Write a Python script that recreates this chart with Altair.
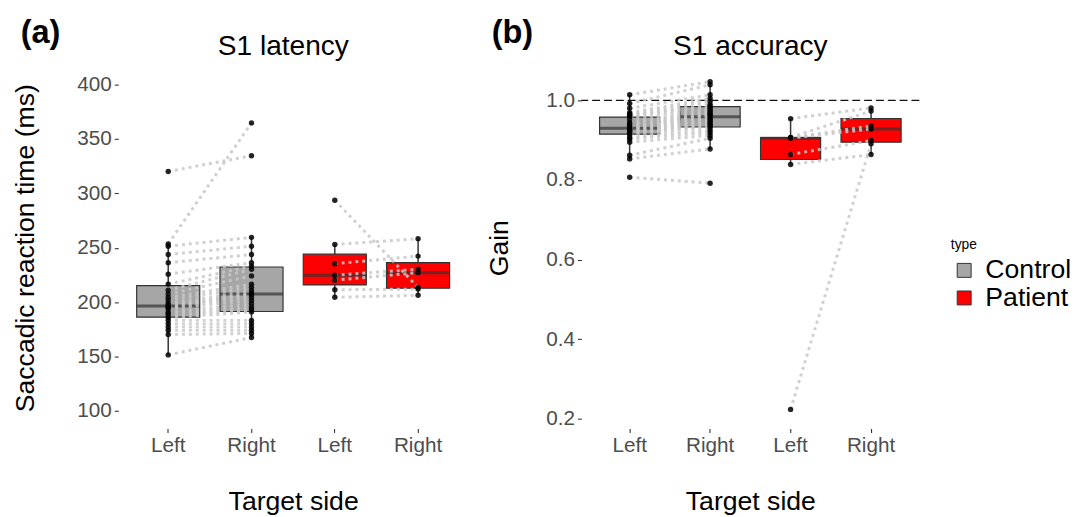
import altair as alt
import pandas as pd

# ---------------- data ----------------
grp_order = ["C-Left", "C-Right", "P-Left", "P-Right"]
type_names = ["Control", "Patient"]
type_colors = ["#A6A6A6", "#FF0000"]

# Panel (a): S1 latency (ms), paired by subject
lat_ctrl_left = [320, 253.4, 251.3, 243.8, 236.2, 225.7, 216.6, 211, 207.5, 204.4, 202, 199, 197,
                 196, 195, 193.9, 191, 189.5, 187.5, 185.8, 183.3, 180.3, 177.3, 174.3, 170.3, 151.6]
lat_ctrl_right = [334.4, 364.6, 259.5, 251.3, 243.8, 236.2, 233, 230.2, 224.1, 216.6, 213.6, 210.5, 208,
                  207, 204.4, 201.5, 198.5, 195.4, 193, 190.9, 183.3, 180.3, 177.3, 174.3, 171.3, 167.6]
lat_pat_left = [293.6, 252.9, 235.3, 224.7, 220.2, 211.4, 204.5]
lat_pat_right = [213.5, 258.3, 242.3, 230.2, 227.1, 212.0, 206.3]

# Panel (b): S1 accuracy (gain), paired by subject
acc_ctrl_left = [1.014, 0.992, 0.980, 0.969, 0.965, 0.962, 0.960, 0.952, 0.944, 0.940, 0.936, 0.932, 0.931,
                 0.929, 0.927, 0.925, 0.923, 0.920, 0.918, 0.914, 0.907, 0.903, 0.895, 0.862, 0.853, 0.807]
acc_ctrl_right = [1.047, 1.039, 1.014, 1.005, 0.998, 0.990, 0.985, 0.982, 0.977, 0.973, 0.969, 0.965, 0.962,
                  0.956, 0.952, 0.948, 0.944, 0.940, 0.936, 0.932, 0.925, 0.919, 0.912, 0.905, 0.878, 0.792]
acc_pat_left = [0.954, 0.907, 0.906, 0.905, 0.864, 0.839, 0.224]
acc_pat_right = [0.981, 0.973, 0.936, 0.928, 0.899, 0.864, 0.891]

lat_ticks = [100, 150, 200, 250, 300, 350, 400]
acc_ticks = [0.2, 0.4, 0.6, 0.8, 1.0]


def build(pairs):
    rows = []
    for typ, left, right in pairs:
        for i, (l, r) in enumerate(zip(left, right)):
            sid = f"{typ}{i + 1}"
            rows.append(dict(type=typ, grp=f"{typ[0]}-Left", subject=sid, value=l))
            rows.append(dict(type=typ, grp=f"{typ[0]}-Right", subject=sid, value=r))
    return pd.DataFrame(rows)


lat_df = build([("Control", lat_ctrl_left, lat_ctrl_right), ("Patient", lat_pat_left, lat_pat_right)])
acc_df = build([("Control", acc_ctrl_left, acc_ctrl_right), ("Patient", acc_pat_left, acc_pat_right)])

FONT = "Liberation Sans"


def panel(df, width, height, domain, ticks, fmt, ytitle, title, tag, tag_x, tag_y, box_size,
          title_dx=0, ytitle_pad=34, refline=False):
    x = alt.X("grp:N", sort=grp_order,
              scale=alt.Scale(domain=grp_order, paddingInner=0, paddingOuter=0.1),
              axis=alt.Axis(title="Target side", labelExpr="substring(datum.label, 2)",
                            labelAngle=0, labelPadding=2, titlePadding=34))
    y = alt.Y("value:Q", scale=alt.Scale(domain=domain, nice=False, zero=False),
              axis=alt.Axis(values=ticks, format=fmt, title=ytitle, labelPadding=3,
                            titlePadding=ytitle_pad))
    base = alt.Chart(df)
    box = base.mark_boxplot(
        extent=1.5, size=box_size, outliers=False,
        box={"stroke": "#333333", "strokeWidth": 1.2},
        median={"color": "#333333", "thickness": 3},
        rule={"color": "#333333", "strokeWidth": 1.5},
    ).encode(
        x=x, y=y,
        color=alt.Color("type:N", scale=alt.Scale(domain=type_names, range=type_colors),
                        legend=alt.Legend(title="type", orient="none", legendX=845, legendY=174,
                                          symbolType="square", symbolSize=200,
                                          symbolStrokeColor="#333333", symbolStrokeWidth=1,
                                          symbolOpacity=1)),
    )
    lines = base.mark_line(color="#C8C8C8", strokeWidth=3, strokeDash=[3, 4], opacity=0.85).encode(
        x=x, y="value:Q", detail="subject:N")
    pts = base.mark_circle(color="black", size=30, opacity=0.85).encode(x=x, y="value:Q")
    layers = [box]
    if refline:
        ref = alt.Chart(pd.DataFrame({"ref": [1.0]})).mark_rule(
            color="#111111", strokeDash=[8, 4], strokeWidth=1.2).encode(y="ref:Q")
        layers.append(ref)
    layers += [lines, pts]
    lab = alt.Chart(pd.DataFrame({"tag": [tag]})).mark_text(
        font=FONT, fontSize=33, fontWeight="bold", align="left", baseline="alphabetic",
        color="black").encode(text="tag:N", x=alt.value(tag_x), y=alt.value(tag_y))
    ttl = alt.Chart(pd.DataFrame({"title": [title]})).mark_text(
        font=FONT, fontSize=28.5, align="center", baseline="alphabetic",
        color="black").encode(text="title:N", x=alt.value(width / 2 + title_dx), y=alt.value(-12))
    layers += [lab, ttl]
    return alt.layer(*layers).properties(width=width, height=height)


pa = panel(lat_df, 355, 367, [84, 416], lat_ticks, "d", "Saccadic reaction time (ms)",
           "S1 latency", "(a)", -99, -24, 64, title_dx=-10, ytitle_pad=37.5)
pb = panel(acc_df, 343, 367, [0.176, 1.084], acc_ticks, ".1f", "Gain",
           "S1 accuracy", "(b)", -91, -24, 61, ytitle_pad=32.5, refline=True)

chart = alt.hconcat(pa, pb, spacing=18).resolve_scale(
    x="independent", y="independent", color="shared"
).properties(
    padding={"left": 12, "top": 14, "right": 5, "bottom": 5}
).configure_view(stroke=None).configure_axis(
    domain=False, grid=False, labelFont=FONT, titleFont=FONT, labelFontSize=21,
    labelColor="#4D4D4D", titleFontSize=27, titleColor="black", titleFontWeight="normal",
    tickColor="#333333", tickSize=4, tickWidth=1.1,
).configure_legend(
    titleFont=FONT, labelFont=FONT, titleFontSize=14, titleFontWeight="normal", titleColor="black",
    labelFontSize=27, labelColor="black", rowPadding=0, labelOffset=8,
)

chart.save("out.html", embed_options={"renderer": "svg", "actions": False})
